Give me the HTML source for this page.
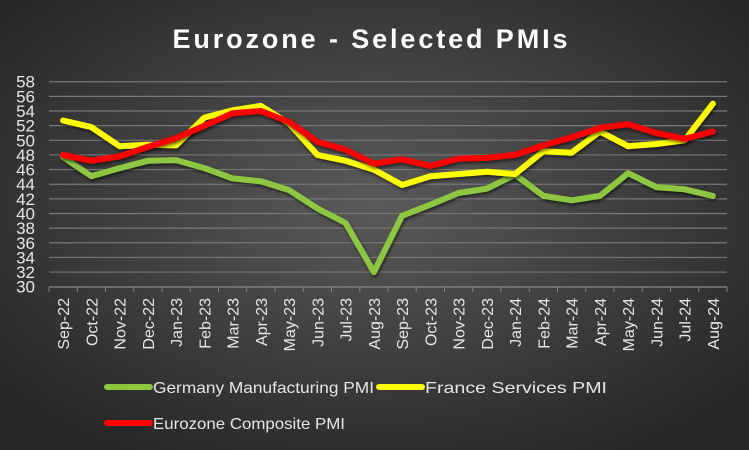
<!DOCTYPE html>
<html><head><meta charset="utf-8"><style>
html,body{margin:0;padding:0;width:749px;height:450px;overflow:hidden;background:#333}
svg{display:block}
text{font-family:"Liberation Sans",sans-serif;fill:#e6e6e6}
</style></head><body>
<svg id="s" width="749" height="450" xmlns="http://www.w3.org/2000/svg">
<defs>
<radialGradient id="bg" cx="50%" cy="45%" r="65%">
<stop offset="0" stop-color="#5a5a5a"/><stop offset="1" stop-color="#262626"/>
</radialGradient>
<filter id="sh" x="-5%" y="-5%" width="110%" height="120%"><feDropShadow dx="1" dy="2" stdDeviation="1.5" flood-color="#000" flood-opacity="0.6"/></filter>
</defs>
<rect width="749" height="450" fill="url(#bg)"/>
<text x="370" y="48" text-anchor="middle" font-size="27" font-weight="bold" fill="#fff" style="fill:#fff" textLength="395" lengthAdjust="spacing">Eurozone - Selected PMIs</text>
<g id="grid"></g>
<g id="lines"></g>
<line x1="107" y1="387" x2="150" y2="387" stroke="#8dc63f" stroke-width="6" stroke-linecap="round"/>
<text x="153" y="393" font-size="16" textLength="221" lengthAdjust="spacingAndGlyphs">Germany Manufacturing PMI</text>
<line x1="379" y1="387" x2="422" y2="387" stroke="#ffff00" stroke-width="6" stroke-linecap="round"/>
<text x="425" y="393" font-size="16" textLength="182" lengthAdjust="spacingAndGlyphs">France Services PMI</text>
<line x1="107" y1="423" x2="150" y2="423" stroke="#ff0000" stroke-width="6" stroke-linecap="round"/>
<text x="153" y="429" font-size="16" textLength="192" lengthAdjust="spacingAndGlyphs">Eurozone Composite PMI</text>
</svg>
<script>
var NS="http://www.w3.org/2000/svg";
function el(t,a,p,txt){var e=document.createElementNS(NS,t);for(var k in a)e.setAttribute(k,a[k]);if(txt)e.textContent=txt;p.appendChild(e);return e;}
var g=document.getElementById('grid'),L=document.getElementById('lines');
function Y(v){return 286.7-(v-30)*7.32;}
function X(i){return 63.1+i*28.25;}
for(var v=30;v<=58;v+=2){
 if(v>30)el('line',{x1:49,x2:727,y1:Y(v),y2:Y(v),stroke:'#777','stroke-width':1.2},g);
 el('text',{x:35,y:Y(v)+6,'text-anchor':'end','font-size':17},g,String(v));
}
el('line',{x1:49,x2:727,y1:287,y2:287,stroke:'#888','stroke-width':1.2},g);
for(var i=0;i<=24;i++)el('line',{x1:49+i*28.25,x2:49+i*28.25,y1:287,y2:292,stroke:'#888','stroke-width':1},g);
var labs=["Sep-22","Oct-22","Nov-22","Dec-22","Jan-23","Feb-23","Mar-23","Apr-23","May-23","Jun-23","Jul-23","Aug-23","Sep-23","Oct-23","Nov-23","Dec-23","Jan-24","Feb-24","Mar-24","Apr-24","May-24","Jun-24","Jul-24","Aug-24"];
labs.forEach(function(l,i){el('text',{x:0,y:0,'text-anchor':'end','font-size':16,transform:'translate('+(X(i)+6)+',298) rotate(-90)'},g,l);});
var ger=[47.7,45.1,46.2,47.2,47.3,46.2,44.8,44.4,43.2,40.7,38.7,32.0,39.7,41.2,42.8,43.4,45.3,42.4,41.8,42.4,45.5,43.6,43.3,42.4];
var fra=[52.7,51.8,49.2,49.4,49.3,53.1,54.1,54.7,52.3,48.0,47.2,46.0,43.9,45.1,45.4,45.7,45.4,48.5,48.3,51.2,49.2,49.5,50.0,55.0];
var ez=[48.0,47.2,47.8,49.1,50.3,52.0,53.7,54.0,52.5,49.8,48.7,46.8,47.4,46.5,47.5,47.6,48.0,49.3,50.4,51.7,52.2,51.0,50.2,51.2];
function line(d,c){var p=d.map(function(v,i){return X(i).toFixed(1)+','+Y(v).toFixed(1)}).join(' ');
 el('polyline',{points:p,fill:'none',stroke:c,'stroke-width':6,'stroke-linejoin':'round','stroke-linecap':'round',filter:'url(#sh)'},L);}
line(ger,'#8dc63f');line(fra,'#ffff00');line(ez,'#ff0000');
</script>
</body></html>
